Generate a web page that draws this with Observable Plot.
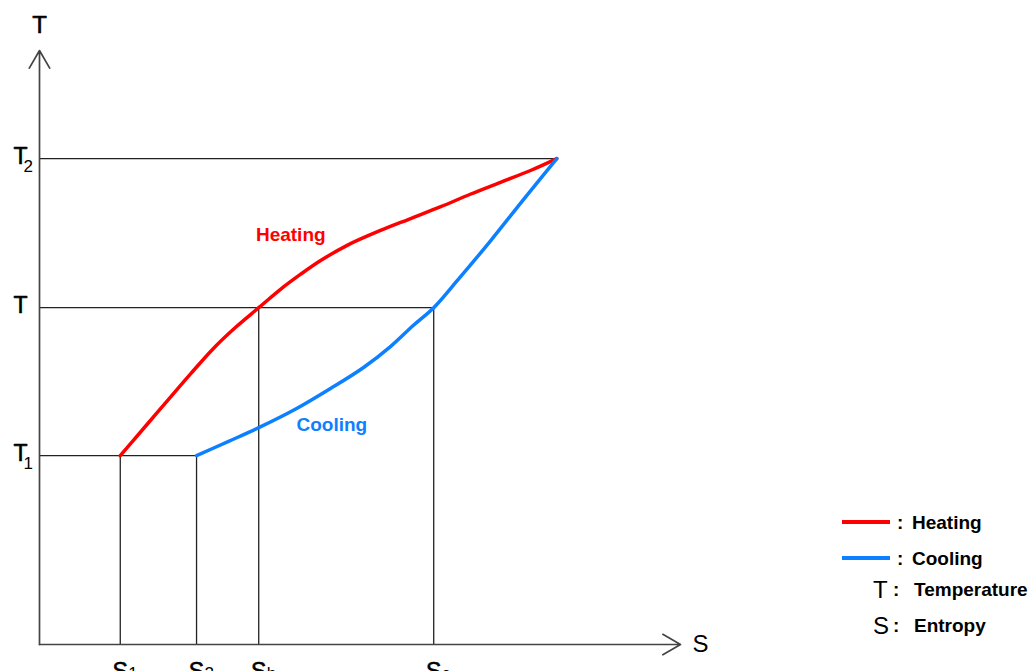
<!DOCTYPE html>
<html>
<head>
<meta charset="utf-8">
<script src="https://cdn.jsdelivr.net/npm/d3@7"></script>
<script src="https://cdn.jsdelivr.net/npm/@observablehq/plot@0.6"></script>
<style>
  html, body { margin: 0; padding: 0; background: #fff; }
  #wrap { position: relative; width: 1036px; height: 671px; overflow: hidden; font-family: "Liberation Sans", Arial, sans-serif; }
  #wrap svg { position: absolute; left: 0; top: 0; }
  .lg { position: absolute; line-height: 24px; height: 24px; white-space: nowrap; color: #000; }
  .lgline { position: absolute; height: 4px; width: 48px; }
</style>
</head>
<body>
<div id="wrap"></div>
<script>
// ---- data (abstract S / T units) ----
const sNames = ["S", "S", "S", "S"];
const sSubs = ["1", "2", "h", "c"];
const sValues = [1.26, 2.45, 3.42, 6.15];
const sMeet = 8.07;          // where heating and cooling meet

const tNames = ["T", "T", "T"];
const tSubs = ["1", "", "2"];
const tValues = [3.18, 5.67, 8.18];

const heatingS = [1.26, 1.65, 2.00, 2.36, 2.71, 3.06, 3.42, 3.76, 4.07, 4.38, 4.80, 5.32, 5.79, 6.26, 6.72, 7.19, 7.66, 8.07];
const heatingT = [3.18, 3.67, 4.11, 4.56, 4.98, 5.34, 5.67, 5.98, 6.23, 6.46, 6.72, 6.97, 7.17, 7.37, 7.58, 7.78, 7.98, 8.18];

const coolingS = [2.45, 2.95, 3.42, 3.99, 4.54, 5.05, 5.48, 5.83, 6.15, 6.52, 7.04, 7.55, 8.07];
const coolingT = [3.18, 3.42, 3.65, 3.96, 4.31, 4.66, 5.02, 5.37, 5.67, 6.13, 6.80, 7.49, 8.18];

const curveLabels = ["Heating", "Cooling"];
const curveLabelS = [3.92, 4.56];
const curveLabelT = [6.89, 3.69];

const legendNames = ["Heating", "Cooling", "Temperature", "Entropy"];

const RED = "#ff0000";
const BLUE = "#0d80ff";
const FONT = "Liberation Sans, Arial, sans-serif";

// ---- derived tables ----
const heating = heatingS.map((s, i) => ({s, t: heatingT[i]}));
const cooling = coolingS.map((s, i) => ({s, t: coolingT[i]}));
const [S1, S2, Sh, Sc] = sValues;
const [T1, Tm, T2] = tValues;
const hLines = [{t: T1, s: S2}, {t: Tm, s: Sc}, {t: T2, s: sMeet}];
const vLines = [{s: S1, t: T1}, {s: S2, t: T1}, {s: Sh, t: Tm}, {s: Sc, t: Tm}];
const sTicks = sValues.map((v, i) => ({v, name: sNames[i], sub: sSubs[i]}));
const tTicks = tValues.map((v, i) => ({v, name: tNames[i], sub: tSubs[i]}));
const labels = curveLabels.map((l, i) => ({l, s: curveLabelS[i], t: curveLabelT[i], c: i === 0 ? RED : BLUE}));

const heavy = {fill: "#000", stroke: "#000", strokeWidth: 0.6};

const chart = Plot.plot({
  width: 1036,
  height: 671,
  x: {type: "linear", domain: [0, 10], range: [39, 680], axis: null},
  y: {type: "linear", domain: [0, 10], range: [644, 50], axis: null},
  style: {fontFamily: FONT, background: "transparent", overflow: "visible"},
  marks: [
    // guide lines
    Plot.ruleY(hLines, {y: "t", x1: 0, x2: "s", stroke: "#222", strokeWidth: 1.3}),
    Plot.ruleX(vLines, {x: "s", y1: 0, y2: "t", stroke: "#222", strokeWidth: 1.3}),
    // axes with arrowheads
    Plot.arrow([{x1: 0, y1: 0, x2: 0, y2: 10}, {x1: 0, y1: 0, x2: 10, y2: 0}], {
      x1: "x1", y1: "y1", x2: "x2", y2: "y2",
      stroke: "#444", strokeWidth: 1.7, headLength: 18, headAngle: 60
    }),
    // curves
    Plot.line(heating, {x: "s", y: "t", stroke: RED, strokeWidth: 3.5, curve: "catmull-rom"}),
    Plot.line(cooling, {x: "s", y: "t", stroke: BLUE, strokeWidth: 3.5, curve: "catmull-rom"}),
    // curve labels
    Plot.text(labels, {x: "s", y: "t", text: "l", fill: "c", fontSize: 19, fontWeight: "bold"}),
    // axis titles
    Plot.text(["T"], {x: 0, y: 10, text: d => d, dy: -25, fontSize: 24, ...heavy}),
    Plot.text(["S"], {x: 10, y: 0, text: d => d, dx: 20, fontSize: 24, fill: "#000"}),
    // T tick labels
    Plot.text(tTicks, {x: 0, y: "v", text: "name", textAnchor: "end", dx: -12, dy: -2, fontSize: 23, ...heavy}),
    Plot.text(tTicks, {x: 0, y: "v", text: "sub", textAnchor: "start", dx: -16, dy: 1, lineAnchor: "top", fontSize: 17, fill: "#000"}),
    // S tick labels
    Plot.text(sTicks, {x: "v", y: 0, text: "name", textAnchor: "middle", dy: 18, lineAnchor: "top", fontSize: 23, ...heavy}),
    Plot.text(sTicks, {x: "v", y: 0, text: "sub", textAnchor: "start", dx: 8, dy: 22, lineAnchor: "top", fontSize: 17, fill: "#000"})
  ]
});

const wrap = document.getElementById("wrap");
wrap.appendChild(chart);

// ---- legend (HTML, right side) ----
function addText(text, left, cy, size, bold) {
  const el = document.createElement("div");
  el.className = "lg";
  el.textContent = text;
  el.style.left = left + "px";
  el.style.top = (cy - 12) + "px";
  el.style.fontSize = size + "px";
  el.style.fontWeight = bold ? "bold" : "normal";
  wrap.appendChild(el);
}
function addLine(color, cy) {
  const el = document.createElement("div");
  el.className = "lgline";
  el.style.background = color;
  el.style.left = "842px";
  el.style.top = (cy - 2) + "px";
  wrap.appendChild(el);
}
addLine(RED, 522);
addText(":", 897, 523, 19, true);
addText(legendNames[0], 912, 523, 19, true);
addLine(BLUE, 558);
addText(":", 897, 559, 19, true);
addText(legendNames[1], 912, 559, 19, true);
addText(tNames[0], 873, 590, 24, false);
addText(":", 893, 590, 19, true);
addText(legendNames[2], 914, 590, 19, true);
addText(sNames[0], 873, 626, 24, false);
addText(":", 893, 626, 19, true);
addText(legendNames[3], 914, 626, 19, true);
</script>
</body>
</html>
